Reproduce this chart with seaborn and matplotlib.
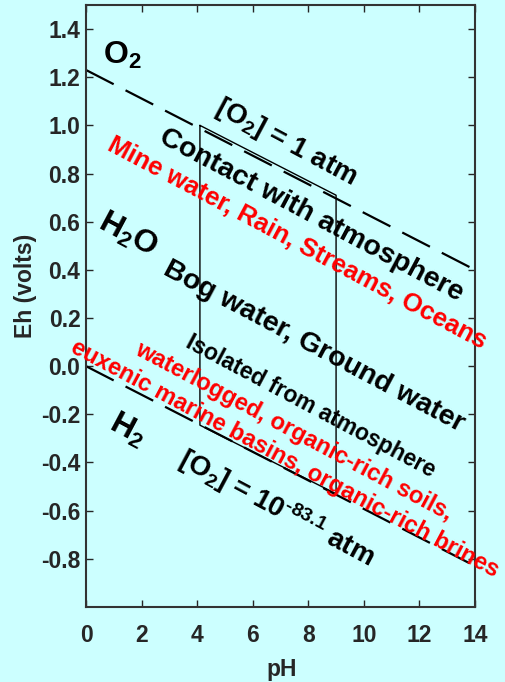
import matplotlib
matplotlib.use("Agg")
import matplotlib.pyplot as plt
import pandas as pd
import seaborn as sns

# water stability limits (Eh vs pH)
ph_line = [0.0, 14.0]
eh_upper = [1.23, 0.40]
eh_lower = [0.0, -0.83]

# natural-water region outline
region_ph = [4.1, 4.1, 9.0, 9.0, 4.1]
region_eh = [1.0, -0.245, -0.53, 0.71, 1.0]

x_ticks = [0, 2, 4, 6, 8, 10, 12, 14]
y_ticks = [-0.8, -0.6, -0.4, -0.2, 0.0, 0.2, 0.4, 0.6, 0.8, 1.0, 1.2, 1.4]

# labels: text, pH, Eh, color, size, rotation
labels = [
    ("O$_2$", 1.3, 1.29, "black", 23, 0),
    ("H$_2$O", 1.5, 0.545, "black", 23, -28),
    ("H$_2$", 1.48, -0.265, "black", 23, -28),
    ("[O$_2$] = 1 atm", 7.18, 0.93, "black", 20, -28),
    ("Contact with atmosphere", 8.12, 0.625, "black", 20.5, -28),
    ("Mine water, Rain, Streams, Oceans", 7.6, 0.51, "red", 18.5, -28),
    ("Bog water, Ground water", 8.2, 0.08, "black", 20.5, -28),
    ("Isolated from atmosphere", 8.10, -0.165, "black", 16.5, -28),
    ("waterlogged, organic-rich soils,", 7.48, -0.27, "red", 17, -28),
    ("euxenic marine basins, organic-rich brines", 7.16, -0.385, "red", 17, -28),
    ("[O$_2$] = 10$^{\\mathit{\u201083.1}}$ atm", 6.87, -0.59, "black", 20, -28),
]

bg = "#ccffff"
sns.set_theme(style="ticks", rc={
    "figure.facecolor": bg,
    "axes.facecolor": bg,
    "axes.edgecolor": "#333333",
    "axes.linewidth": 1.5,
    "xtick.direction": "in",
    "ytick.direction": "in",
    "xtick.top": True,
    "ytick.right": True,
    "axes.unicode_minus": False,
})
plt.rcParams["font.family"] = ["Liberation Sans", "DejaVu Sans"]
plt.rcParams["mathtext.fontset"] = "custom"
plt.rcParams["mathtext.rm"] = "Liberation Sans:bold"
plt.rcParams["mathtext.it"] = "Liberation Sans:bold:italic"
plt.rcParams["mathtext.bf"] = "Liberation Sans:bold"

fig = plt.figure(figsize=(5.05, 6.82), dpi=100)
ax = fig.add_axes([0.1703, 0.110, 0.7703, 0.8827])

lines = pd.DataFrame({"pH": ph_line * 2,
                      "Eh": eh_upper + eh_lower,
                      "limit": ["upper"] * 2 + ["lower"] * 2})
for name, grp in lines.groupby("limit"):
    sns.lineplot(data=grp, x="pH", y="Eh", color="black", lw=1.6,
                 dashes=False, ax=ax, estimator=None, sort=False)
for ln in ax.lines:
    ln.set_dashes([14, 6])

ax.plot(region_ph, region_eh, color="black", lw=1.0)

for text, px, ey, col, size, rot in labels:
    ax.text(px, ey, text, color=col, fontsize=size, fontweight="bold",
            rotation=rot, rotation_mode="anchor", ha="center", va="center")

ax.set_xlim(0, 14)
ax.set_ylim(-1.0, 1.5)
ax.set_xticks(x_ticks)
ax.set_yticks(y_ticks)
ax.set_xticklabels([str(t) for t in x_ticks])
ax.set_yticklabels([f"{t:.1f}" for t in y_ticks])
ax.tick_params(axis="x", length=5, width=1, pad=12, labelsize=16.5)
ax.tick_params(axis="y", length=5, width=1, pad=4, labelsize=16.5)
for lab in ax.get_xticklabels() + ax.get_yticklabels():
    lab.set_fontweight("bold")

ax.set_xlabel("pH", fontsize=16.5, fontweight="bold")
ax.set_ylabel("Eh (volts)", fontsize=16.5, fontweight="bold")
ax.xaxis.set_label_coords(0.504, -0.0847)
ax.yaxis.set_label_coords(-0.125, 0.533)

fig.savefig("out.png", dpi=100, facecolor=bg)
